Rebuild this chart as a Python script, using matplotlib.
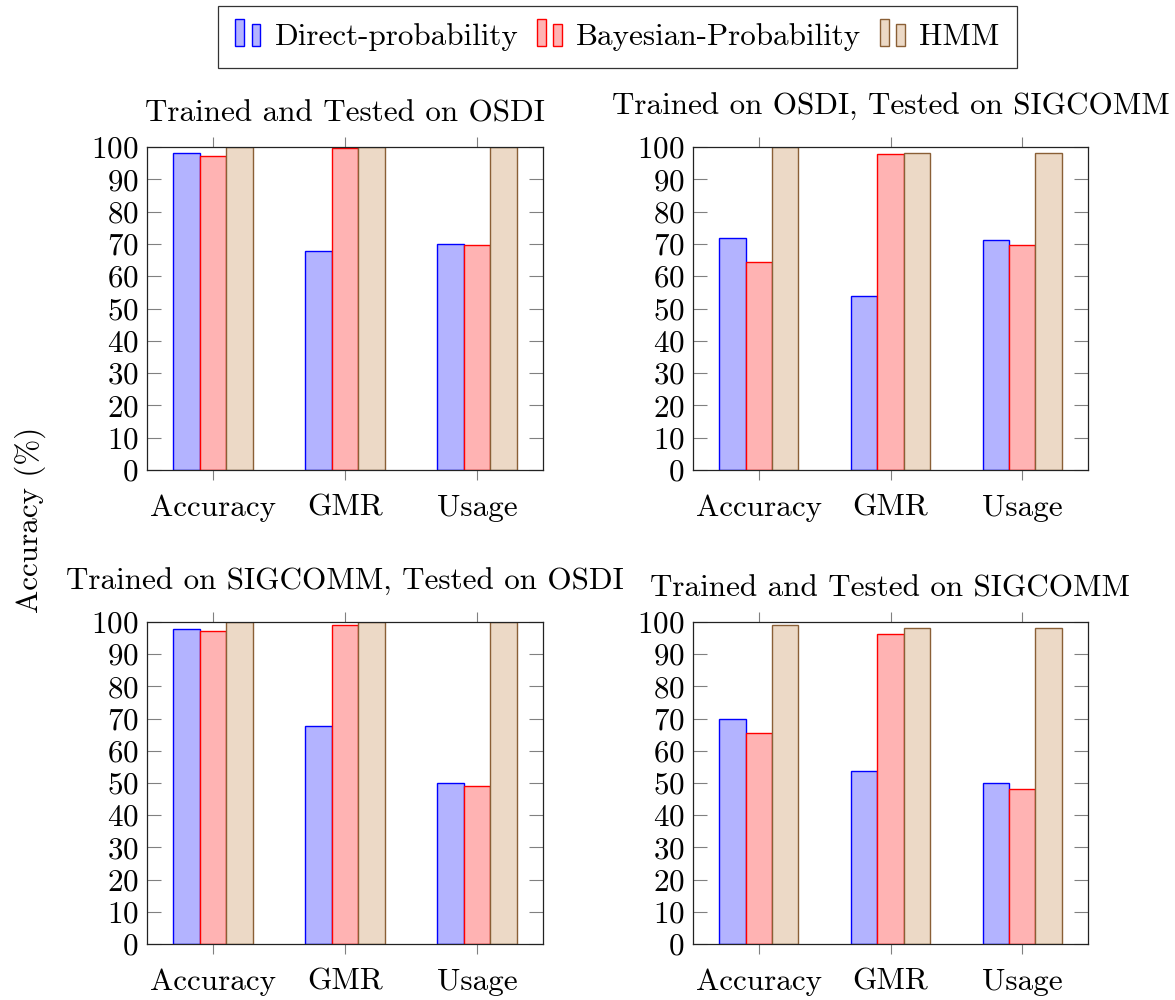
import matplotlib
matplotlib.use("Agg")
import matplotlib.pyplot as plt
from matplotlib.patches import Rectangle
from matplotlib.legend_handler import HandlerBase
import numpy as np

plt.rcParams['font.family'] = ['cmr10', 'DejaVu Serif']
plt.rcParams['axes.formatter.use_mathtext'] = True
plt.rcParams['mathtext.fontset'] = 'cm'

categories = ["Accuracy", "GMR", "Usage"]
series_names = ["Direct-probability", "Bayesian-Probability", "HMM"]

titles = [
    "Trained and Tested on OSDI",
    "Trained on OSDI, Tested on SIGCOMM",
    "Trained on SIGCOMM, Tested on OSDI",
    "Trained and Tested on SIGCOMM",
]

# values per panel: [direct, bayesian, hmm] each over categories
osdi_osdi_direct = [98.2, 67.7, 70.0]
osdi_osdi_bayes = [97.1, 99.8, 69.8]
osdi_osdi_hmm = [100, 100, 100]

osdi_sig_direct = [71.7, 54.0, 71.2]
osdi_sig_bayes = [64.4, 97.8, 69.8]
osdi_sig_hmm = [100, 98.0, 98.0]

sig_osdi_direct = [97.9, 67.6, 50.0]
sig_osdi_bayes = [97.3, 99.1, 49.1]
sig_osdi_hmm = [100, 100, 100]

sig_sig_direct = [70.0, 53.7, 50.1]
sig_sig_bayes = [65.5, 96.3, 48.1]
sig_sig_hmm = [99.1, 98.1, 98.1]

panels = [
    (osdi_osdi_direct, osdi_osdi_bayes, osdi_osdi_hmm),
    (osdi_sig_direct, osdi_sig_bayes, osdi_sig_hmm),
    (sig_osdi_direct, sig_osdi_bayes, sig_osdi_hmm),
    (sig_sig_direct, sig_sig_bayes, sig_sig_hmm),
]

fills = ["#b3b3ff", "#ffb3b3", "#ecd9c6"]
edges = ["#0000ff", "#ff0000", "#8a5f36"]

W, H = 1175, 1000
fig = plt.figure(figsize=(W / 100, H / 100), dpi=100)

boxes = [
    (147, 147, 543, 470),
    (693, 147, 1088, 470),
    (147, 622, 543, 944),
    (693, 622, 1088, 944),
]

FS = 22.4
x = np.arange(len(categories))
bw = 0.2
offsets = [-bw, 0, bw]

axes = []
for (l, t, r, b), title, vals in zip(boxes, titles, panels):
    ax = fig.add_axes([l / W, 1 - b / H, (r - l) / W, (b - t) / H])
    for s, (v, fc, ec) in enumerate(zip(vals, fills, edges)):
        ax.bar(x + offsets[s], v, width=bw, color=fc, edgecolor=ec,
               linewidth=1.0, zorder=2)
    ax.set_xlim(-0.5, 2.5)
    ax.set_ylim(0, 100)
    ax.set_yticks(np.arange(0, 101, 10))
    ax.set_xticks(x)
    ax.set_xticklabels(categories)
    ax.tick_params(axis='y', direction='in', left=True, right=True,
                   length=10, width=0.8, color='#808080', labelsize=FS, pad=6)
    ax.tick_params(axis='x', direction='out', top=True, bottom=True,
                   length=7, width=0.8, color='#808080', labelsize=FS, pad=10.5)
    for sp in ax.spines.values():
        sp.set_linewidth(0.9)
        sp.set_color('#222222')
    # pgfplots anchors the title box bottom (incl. descender) above the axes
    ax.set_title(title, fontsize=FS, pad=23.0 if ',' in title else 18.7)
    axes.append(ax)


class DoubleBarHandler(HandlerBase):
    def create_artists(self, legend, orig_handle, xdescent, ydescent,
                       width, height, fontsize, trans):
        fc = orig_handle.get_facecolor()
        ec = orig_handle.get_edgecolor()
        bw_ = width * 0.33
        r1 = Rectangle((-xdescent, -ydescent - height * 0.05),
                       bw_, height * 1.25, facecolor=fc, edgecolor=ec,
                       linewidth=1.0, transform=trans)
        r2 = Rectangle((-xdescent + width * 0.62, -ydescent - height * 0.05),
                       bw_, height * 1.0, facecolor=fc, edgecolor=ec,
                       linewidth=1.0, transform=trans)
        return [r1, r2]


handles = [Rectangle((0, 0), 1, 1, facecolor=fc, edgecolor=ec)
           for fc, ec in zip(fills, edges)]
leg = fig.legend(handles, series_names, loc='center',
                 bbox_to_anchor=(617.5 / W, 1 - 37 / H), ncol=3, fontsize=FS,
                 frameon=True, fancybox=False, handlelength=0.84,
                 handletextpad=0.42, columnspacing=0.6, borderpad=0.55,
                 borderaxespad=0,
                 handler_map={Rectangle: DoubleBarHandler()})
leg.get_frame().set_edgecolor('black')
leg.get_frame().set_linewidth(0.9)

fig.text(30 / W, 1 - 520 / H, "Accuracy (%)", rotation=90, fontsize=FS,
         ha='center', va='center')

fig.savefig("out.png", dpi=100)
